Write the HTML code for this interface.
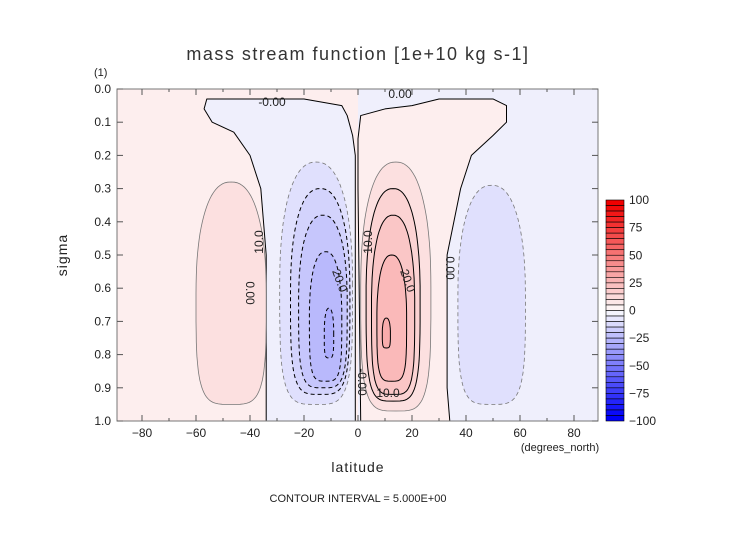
<!DOCTYPE html>
<html><head><meta charset="utf-8"><style>
body{margin:0;background:#fff;font-family:"Liberation Sans",sans-serif}
svg text{font-family:"Liberation Sans",sans-serif;fill:#222}
</style></head><body>
<svg id="c" width="752" height="532">
<g id="plot"></g>
<g id="axes"></g>
<g id="cbar"></g>
<text x="358" y="60" text-anchor="middle" font-size="18" letter-spacing="1.5" style="fill:#333">mass stream function [1e+10 kg s-1]</text>
<text x="94" y="76" font-size="11">(1)</text>
<text x="67" y="255" font-size="14" text-anchor="middle" transform="rotate(-90 67 255)" letter-spacing="1">sigma</text>
<text x="358" y="472" font-size="14" text-anchor="middle" letter-spacing="1">latitude</text>
<text x="560" y="451" font-size="11" text-anchor="middle">(degrees_north)</text>
<text x="358" y="502" font-size="11" text-anchor="middle">CONTOUR INTERVAL = 5.000E+00</text>
</svg>
<script>
// data
const xTicks=[-80,-60,-40,-20,0,20,40,60,80];
const yTicks=[0,0.1,0.2,0.3,0.4,0.5,0.6,0.7,0.8,0.9,1.0];
const cbarTicks=[100,75,50,25,0,-25,-50,-75,-100];
// nested cells: [value, lat0, lat1, sigma0, sigma1]
const cellValues=[5,-5,5,10,15,20,25,-5,-10,-15,-20,-25];
const cellLat0=[-60,37,1,3,5,7,9,-29,-25,-22,-18,-12.5];
const cellLat1=[-34,62,27,23,21,18,12,-2,-3,-4,-6,-9];
const cellSig0=[0.28,0.29,0.22,0.3,0.38,0.5,0.69,0.22,0.3,0.38,0.49,0.66];
const cellSig1=[0.95,0.95,0.97,0.94,0.92,0.88,0.78,0.95,0.92,0.9,0.88,0.81];
const blueUpperLat=[-56,-20,-6,-4,-2,-1,-1,-34,-34,-36,-40,-46,-54,-57];
const blueUpperSig=[0.03,0.03,0.05,0.08,0.14,0.2,1.0,1.0,0.5,0.3,0.2,0.13,0.1,0.06];
const pinkUpperLat=[1,10,20,30,50,55,55,50,42,38,33,33,34,1,0,0];
const pinkUpperSig=[0.08,0.06,0.05,0.03,0.03,0.05,0.1,0.14,0.2,0.3,0.5,0.9,1.0,1.0,0.3,0.15];

const NS='http://www.w3.org/2000/svg';
const X=l=>358+l*2.7, Y=s=>89+s*332;
const L=117,R=598,T=89,B=421;
function mk(p,tag,a){const e=document.createElementNS(NS,tag);for(const k in a)e.setAttribute(k,a[k]);p.appendChild(e);return e;}
function col(v){const t=Math.min(Math.abs(v),100)/100;
 if(v>=0){const g=Math.round(250-t*260);return `rgb(${Math.round(253-t*13)},${Math.max(g,0)},${Math.max(g,0)})`;}
 const g=Math.round(250-t*260);return `rgb(${Math.max(g,0)},${Math.max(g,0)},${Math.round(253-t*5)})`;}
const plot=document.getElementById('plot'),axes=document.getElementById('axes'),cb=document.getElementById('cbar');
const cp=mk(plot,'clipPath',{id:'clp'});mk(cp,'rect',{x:L,y:T,width:R-L,height:B-T});
const g=mk(plot,'g',{'clip-path':'url(#clp)'});
const PINK0='#fdeeee',BLUE0='#efeffc';
let r=mk(g,'rect',{x:L,y:T,width:X(0)-L,height:B-T,fill:PINK0});

r=mk(g,'rect',{x:X(0),y:T,width:R-X(0),height:B-T,fill:BLUE0});

function poly(lats,sigs,fill,name){const d=lats.map((l,i)=>(i?'L':'M')+X(l)+','+Y(sigs[i])).join('')+'Z';
 const p=mk(g,'path',{d,fill,stroke:'#000','stroke-width':1,'stroke-linejoin':'round'});
 }
poly(blueUpperLat,blueUpperSig,BLUE0,'zero-contour-south');
poly(pinkUpperLat,pinkUpperSig,PINK0,'zero-contour-north');
function sup(x0,x1,y0,y1){const cx=(x0+x1)/2,cy=(y0+y1)/2,rx=(x1-x0)/2,ry=(y1-y0)/2;let d='';
 for(let i=0;i<=96;i++){const a=i/96*2*Math.PI,c=Math.cos(a),s=Math.sin(a);
  const n=s<0?0.85:0.5;
  const px=cx+rx*Math.sign(c)*Math.pow(Math.abs(c),n),py=cy+ry*Math.sign(s)*Math.pow(Math.abs(s),s<0?0.9:0.5);d+=(i?'L':'M')+px.toFixed(1)+','+py.toFixed(1);}
 return d+'Z';}
cellValues.forEach((v,i)=>{
 const outer=Math.abs(v)===5;
 const p=mk(g,'path',{d:sup(X(cellLat0[i]),X(cellLat1[i]),Y(cellSig0[i]),Y(cellSig1[i])),fill:col(v+(v>0?5:-5)),
  stroke:outer?'#777':'#000','stroke-width':outer?0.8:1,'stroke-dasharray':v<0?'4,3':'none'});
 
 
});
[['-0.00',272,106,0],['0.00',400,98,0],['10.0',263,242,-90],['10.0',372,242,-90],['20.0',336,282,70],['20.0',404,282,70],['0.00',246,293,90],['0.00',446,268,90],['10.0',388,397,0],['-0.00',358,382,90]].forEach(t=>{
 const e=mk(g,'text',{x:t[1],y:t[2],'font-size':12,'text-anchor':'middle',transform:`rotate(${t[3]} ${t[1]} ${t[2]})`});
 e.textContent=t[0];});
r=mk(axes,'rect',{x:L,y:T,width:R-L,height:B-T,fill:'none',stroke:'#777','stroke-width':1});

for(let l=-80;l<=80;l+=10){const x=X(l),len=l%20===0?6:3;
 mk(axes,'line',{x1:x,x2:x,y1:B,y2:B-len,stroke:'#555'});mk(axes,'line',{x1:x,x2:x,y1:T,y2:T+len,stroke:'#555'});}
xTicks.forEach(l=>{const t=mk(axes,'text',{x:X(l),y:437,'font-size':12,'text-anchor':'middle'});t.textContent=l<0?'\u2212'+(-l):l;
 });
yTicks.forEach(s=>{const y=Y(s);mk(axes,'line',{x1:L,x2:L+6,y1:y,y2:y,stroke:'#555'});mk(axes,'line',{x1:R,x2:R-6,y1:y,y2:y,stroke:'#555'});
 const t=mk(axes,'text',{x:111,y:y+4,'font-size':12,'text-anchor':'end'});t.textContent=s.toFixed(1);
 });
const cx0=606,cw=18,cT=200,cB=421,cH=(cB-cT)/40;
for(let i=0;i<40;i++){const v=100-i*5-2.5;const rr=mk(cb,'rect',{x:cx0,y:cT+i*cH,width:cw,height:cH,fill:col(v),stroke:'#000','stroke-width':0.6});
 }
cbarTicks.forEach(v=>{const y=cT+(100-v)/200*(cB-cT);const t=mk(cb,'text',{x:629,y:y+4,'font-size':12});t.textContent=v<0?'\u2212'+(-v):v;
 });
</script>
</body></html>
